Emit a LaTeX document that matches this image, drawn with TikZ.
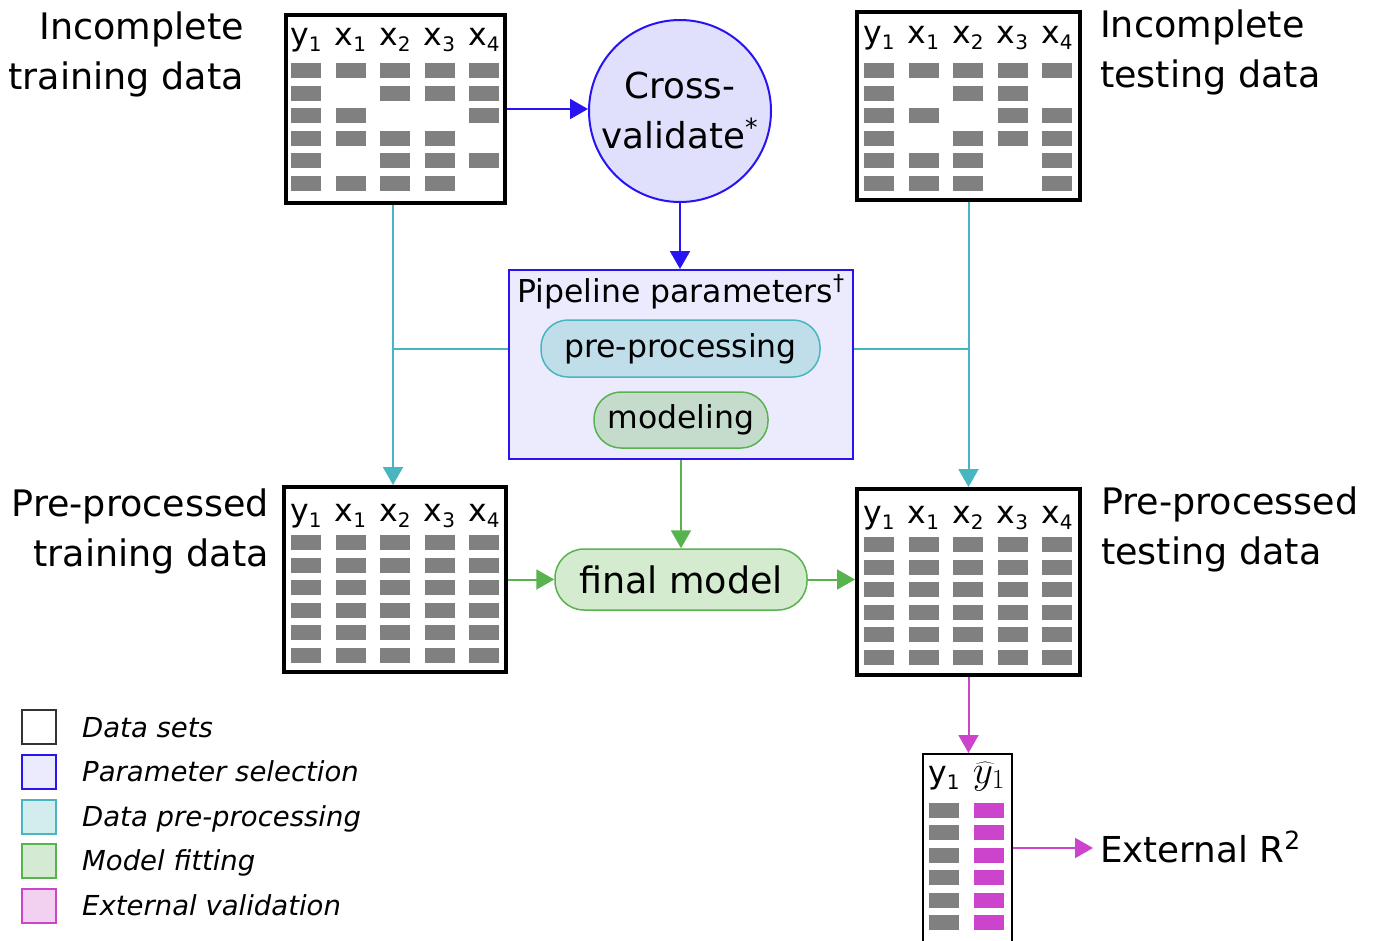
\RequirePackage{fix-cm}
\documentclass[tikz,border=0pt]{standalone}
\usepackage{fontspec}
\setmainfont{DejaVu Sans}
\usetikzlibrary{arrows.meta}
\definecolor{cblue}{RGB}{40,20,240}
\definecolor{cteal}{RGB}{72,182,192}
\definecolor{cgreen}{RGB}{88,178,78}
\definecolor{cmag}{RGB}{204,68,204}
\definecolor{cgray}{RGB}{128,128,128}
\definecolor{fpipe}{RGB}{235,235,253}
\definecolor{fcirc}{RGB}{224,224,252}
\definecolor{fpp}{RGB}{192,222,234}
\definecolor{fmod}{RGB}{197,220,204}
\definecolor{ffm}{RGB}{213,235,208}
\definecolor{fteal}{RGB}{211,236,237}
\definecolor{fgreen}{RGB}{213,234,210}
\definecolor{fmag}{RGB}{242,208,240}
\newcommand\bigf{\fontsize{36.5}{50}\selectfont}
\newcommand\midf{\fontsize{35.7}{50}\selectfont}
\newcommand\hdrf{\fontsize{31.5}{37}\selectfont}
\newcommand\legf{\fontsize{27.5}{32}\selectfont\itshape}
\newcommand\sbs[1]{\raisebox{-6pt}{\fontsize{20}{20}\selectfont #1}}
\newcommand\mytable[9]{%
  \node[databox, minimum width=#4, minimum height=#5] (#1) at (#2,#3) {};
  \foreach \h/\s [count=\c] in {y/1,x/1,x/2,x/3,x/4}
    \node[hdr, anchor=base] (#1h\c) at ({#6+15+44.5*(\c-1)}, #8) {\h\sbs{\s}};
  \foreach \rw [count=\r] in {#9} {
    \foreach \v [count=\c] in \rw {
      \ifnum\v=1 \fill[cgray] ({#6+44.5*(\c-1)}, {#7+22.6*(\r-1)}) rectangle ++(30,15); \fi
    }
  }
}
\tikzset{
  databox/.style={draw=black, line width=4pt, fill=white, inner sep=0pt},
  hdr/.style={font=\hdrf, inner sep=0pt},
  biglbl/.style={font=\bigf, inner sep=0pt},
  pill/.style={rounded corners=27pt, line width=1.5pt, inner sep=0pt},
  arr/.style={line width=2pt, -{Triangle[length=18pt,width=20pt]}},
  legsq/.style={minimum size=34pt, line width=2pt, inner sep=0pt},
  legtxt/.style={font=\legf, inner sep=0pt, anchor=base west}
}
\begin{document}
\begin{tikzpicture}[x=1pt,y=-1pt]
\useasboundingbox (0,0) rectangle (1381,940);
% data tables
\mytable{tl}{395.5}{109}{219}{188}{291}{63}{45}{{1,1,1,1,1},{1,0,1,1,1},{1,1,0,0,1},{1,1,1,1,0},{1,0,1,1,1},{1,1,1,1,0}}
\mytable{tr}{968.5}{106}{223}{188}{864}{63}{43}{{1,1,1,1,1},{1,0,1,1,0},{1,1,0,1,1},{1,0,1,1,1},{1,1,1,0,1},{1,1,1,0,1}}
\mytable{bl}{395}{579.5}{222}{185}{291}{535}{521}{{1,1,1,1,1},{1,1,1,1,1},{1,1,1,1,1},{1,1,1,1,1},{1,1,1,1,1},{1,1,1,1,1}}
\mytable{br}{968.5}{582}{223}{186}{864}{537}{523}{{1,1,1,1,1},{1,1,1,1,1},{1,1,1,1,1},{1,1,1,1,1},{1,1,1,1,1},{1,1,1,1,1}}
% labels
\node[biglbl, align=right, anchor=east] (lit) at (244,54) {Incomplete\\training data};
\node[biglbl, align=left, anchor=west] (lie) at (1100,52) {Incomplete\\testing data};
\node[biglbl, align=right, anchor=east] (lpt) at (269,531) {Pre-processed\\training data};
\node[biglbl, align=left, anchor=west] (lpe) at (1101,529) {Pre-processed\\testing data};
% cross-validate
\node[circle, draw=cblue, fill=fcirc, line width=2pt, minimum size=182pt, inner sep=0pt,
      font=\midf, align=center] (cv) at (680,111) {Cross-\\validate\textsuperscript{*}};
% pipeline parameters
\node[draw=cblue, fill=fpipe, line width=2pt, minimum width=344pt, minimum height=189pt, inner sep=0pt] (pipe) at (681,364.5) {};
\node[hdr, anchor=base] (ptitle) at (681,302) {Pipeline parameters\textsuperscript{†}};
\node[pill, draw=cteal, fill=fpp, minimum width=279pt, minimum height=57pt, font=\hdrf] (pp) at (680.5,348.5) {pre-processing};
\node[pill, draw=cgreen, fill=fmod, minimum width=174pt, minimum height=56pt, font=\hdrf] (mod) at (681,420) {modeling};
% final model
\node[pill, rounded corners=29pt, draw=cgreen, fill=ffm, minimum width=252pt, minimum height=61pt, font=\bigf] (fm) at (681,579.5) {final model};
% output table
\node[draw=black, line width=2pt, fill=white, minimum width=89pt, minimum height=188pt, inner sep=0pt] (out) at (967.5,848) {};
\node[hdr, anchor=base] (outh1) at (944,783) {y\sbs{1}};
\node[hdr, anchor=base] (outh2) at (989,783) {\scalebox{1.25}{$\widehat{y}_1$}};
\foreach \r in {0,...,5} {
  \fill[cgray] (929,{803+22.45*\r}) rectangle ++(30,15);
  \fill[cmag] (974,{803+22.45*\r}) rectangle ++(30,15);
}
\node[font=\midf, inner sep=0pt, inner xsep=7pt, anchor=base west] (r2) at (1093,862) {External R\textsuperscript{2}};
% connectors
\draw[arr, cblue] (tl.east) -- (tl.east -| cv.west);
\draw[arr, cblue] (cv.south) -- (cv.south |- pipe.north);
\draw[arr, cteal] ([xshift=-2.5pt]tl.south) -- ([xshift=-2.5pt]tl.south |- bl.north);
\draw[arr, cteal] (tr.south) -- (tr.south |- br.north);
\draw[line width=2pt, cteal] (pipe.west |- pp) -- ([xshift=-2.5pt]tl.south |- pp);
\draw[line width=2pt, cteal] (pipe.east |- pp) -- (tr.south |- pp);
\draw[arr, cgreen] (pipe.south -| fm.north) -- (fm.north);
\draw[arr, cgreen] (bl.east) -- (bl.east -| fm.west);
\draw[arr, cgreen] (fm.east) -- (fm.east -| br.west);
\draw[arr, cmag] (br.south) -- (br.south |- out.north);
\draw[arr, cmag] (out.east) -- (r2.west |- out.east);
% legend
\node[legsq, draw=black!80, fill=white] (lg1) at (38.5,727) {};
\node[legsq, draw=cblue, fill=fpipe] (lg2) at (38.5,772) {};
\node[legsq, draw=cteal, fill=fteal] (lg3) at (38.5,816.5) {};
\node[legsq, draw=cgreen, fill=fgreen] (lg4) at (38.5,860.5) {};
\node[legsq, draw=cmag, fill=fmag] (lg5) at (38.5,905.5) {};
\node[legtxt] (lt1) at (82,737) {Data sets};
\node[legtxt] (lt2) at (82,781.5) {Parameter selection};
\node[legtxt] (lt3) at (82,826) {Data pre-processing};
\node[legtxt] (lt4) at (82,870) {Model fitting};
\node[legtxt] (lt5) at (82,915) {External validation};
\end{tikzpicture}
\end{document}
